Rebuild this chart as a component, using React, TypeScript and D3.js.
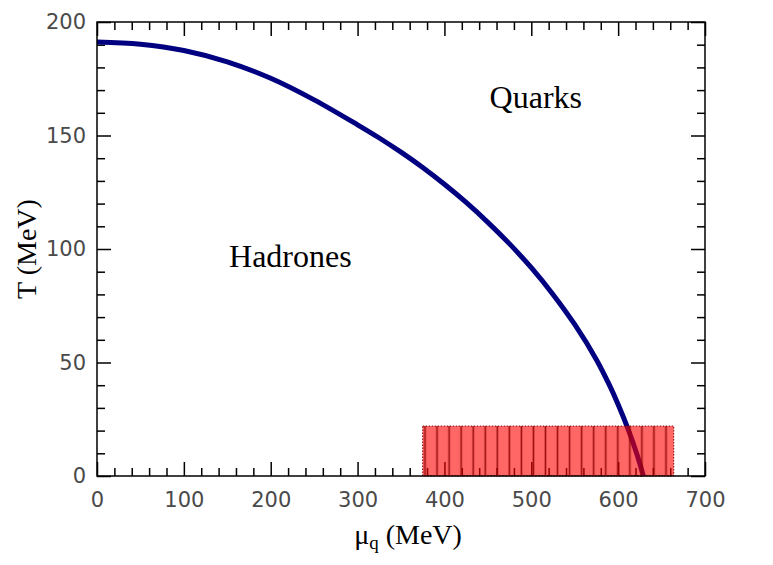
import React, { useEffect, useRef } from 'react';
import * as d3 from 'd3';

// phase boundary
const muValues = [0, 50, 100, 150, 200, 250, 300, 325, 350, 375, 400, 425, 450, 475, 500, 525, 550, 575, 590, 600, 612, 622, 629];
const tValues = [191.2, 190.2, 187.45, 182.45, 175.2, 165.7, 154.7, 148.9, 142.65, 135.9, 128.5, 120.5, 111.75, 102.25, 91.75, 80, 66.75, 51.25, 40, 31.5, 20.1, 9.1, 0];

// hatched band
const bandMu = [375, 664];
const bandT = [0, 22];

const xMajor = [0, 100, 200, 300, 400, 500, 600, 700];
const yMajor = [0, 50, 100, 150, 200];

const regionLabels = [
  { text: 'Hadrones', mu: 152, t: 92 },
  { text: 'Quarks', mu: 452, t: 162 },
];

const App = () => {
  const ref = useRef<SVGSVGElement | null>(null);

  useEffect(() => {
    document.body.style.margin = '0';
    const svg = d3.select(ref.current);
    svg.selectAll('*').remove();

    const margin = { top: 22, right: 68, bottom: 89, left: 97 };
    const width = 773;
    const height = 565;
    const w = width - margin.left - margin.right;
    const h = height - margin.top - margin.bottom;

    const x = d3.scaleLinear().domain([0, 700]).range([0, w]);
    const y = d3.scaleLinear().domain([0, 200]).range([h, 0]);

    // vertical hatch for the band
    const pat = svg.append('defs').append('pattern')
      .attr('id', 'vhatch')
      .attr('patternUnits', 'userSpaceOnUse')
      .attr('x', 419)
      .attr('y', 0)
      .attr('width', 12.05)
      .attr('height', 10);
    pat.append('line')
      .attr('x1', 6).attr('x2', 6)
      .attr('y1', 0).attr('y2', 10)
      .attr('stroke', '#8b0000')
      .attr('stroke-width', 1.6);

    const g = svg.append('g').attr('transform', `translate(${margin.left},${margin.top})`);

    const tickStyle = (sel: any) => {
      sel.selectAll('text')
        .style('font-family', '"DejaVu Sans", sans-serif')
        .style('font-size', '21px')
        .attr('fill', '#4a4a4a');
      sel.selectAll('line').attr('stroke', '#000').attr('stroke-width', 1.5);
      sel.select('.domain').remove();
    };

    const xMinor = d3.range(0, 701, 20).filter(v => v % 100 !== 0);
    const yMinor = d3.range(0, 201, 10).filter(v => v % 50 !== 0);
    const none = () => '';

    // bottom
    g.append('g').attr('transform', `translate(0,${h})`)
      .call(d3.axisBottom(x).tickValues(xMajor).tickSize(-14).tickPadding(16).tickFormat(d3.format('d')))
      .call(tickStyle);
    g.append('g').attr('transform', `translate(0,${h})`)
      .call(d3.axisBottom(x).tickValues(xMinor).tickSize(-8).tickFormat(none))
      .call(tickStyle);
    // top
    g.append('g')
      .call(d3.axisTop(x).tickValues(xMajor).tickSize(-14).tickFormat(none))
      .call(tickStyle);
    g.append('g')
      .call(d3.axisTop(x).tickValues(xMinor).tickSize(-8).tickFormat(none))
      .call(tickStyle);
    // left
    g.append('g')
      .call(d3.axisLeft(y).tickValues(yMajor).tickSize(-14).tickPadding(11).tickFormat(d3.format('d')))
      .call(tickStyle);
    g.append('g')
      .call(d3.axisLeft(y).tickValues(yMinor).tickSize(-8).tickFormat(none))
      .call(tickStyle);
    // right
    g.append('g').attr('transform', `translate(${w},0)`)
      .call(d3.axisRight(y).tickValues(yMajor).tickSize(-14).tickFormat(none))
      .call(tickStyle);
    g.append('g').attr('transform', `translate(${w},0)`)
      .call(d3.axisRight(y).tickValues(yMinor).tickSize(-8).tickFormat(none))
      .call(tickStyle);

    // boundary curve
    const pts = muValues.map((m, i) => [m, tValues[i]] as [number, number]);
    const line = d3.line<[number, number]>()
      .x(d => x(d[0]))
      .y(d => y(d[1]))
      .curve(d3.curveCatmullRom.alpha(0.5));
    g.append('path')
      .datum(pts)
      .attr('d', line)
      .attr('fill', 'none')
      .attr('stroke', '#000080')
      .attr('stroke-width', 5);

    // hatched band
    const bx = x(bandMu[0]);
    const bw = x(bandMu[1]) - x(bandMu[0]);
    const by = y(bandT[1]);
    const bh = y(bandT[0]) - y(bandT[1]);
    g.append('rect')
      .attr('x', bx).attr('y', by).attr('width', bw).attr('height', bh)
      .attr('fill', '#ff0000').attr('fill-opacity', 0.6);
    svg.append('rect')
      .attr('x', bx + margin.left).attr('y', by + margin.top).attr('width', bw).attr('height', bh)
      .attr('fill', 'url(#vhatch)').attr('opacity', 0.85);
    g.append('rect')
      .attr('x', bx).attr('y', by).attr('width', bw).attr('height', bh)
      .attr('fill', 'none')
      .attr('stroke', '#8b0000')
      .attr('stroke-width', 1)
      .attr('stroke-dasharray', '1.5,1.5');

    // frame
    g.append('rect')
      .attr('width', w).attr('height', h)
      .attr('fill', 'none')
      .attr('stroke', '#000')
      .attr('stroke-width', 1.5);

    // region labels
    g.selectAll('.region')
      .data(regionLabels)
      .enter()
      .append('text')
      .attr('x', d => x(d.mu))
      .attr('y', d => y(d.t))
      .style('font-family', '"Liberation Serif", "Times New Roman", serif')
      .style('font-size', '32px')
      .attr('fill', '#000')
      .text(d => d.text);

    // axis labels
    const xl = svg.append('text')
      .attr('x', margin.left + w / 2 + 7)
      .attr('y', 544)
      .attr('text-anchor', 'middle')
      .style('font-family', '"Liberation Serif", "Times New Roman", serif')
      .style('font-size', '28px')
      .attr('fill', '#000');
    xl.append('tspan').text('μ');
    xl.append('tspan').attr('dy', 5).style('font-size', '19px').text('q');
    xl.append('tspan').attr('dy', -5).text(' (MeV)');

    svg.append('text')
      .attr('transform', `translate(36,${margin.top + h / 2}) rotate(-90)`)
      .attr('text-anchor', 'middle')
      .style('font-family', '"Liberation Serif", "Times New Roman", serif')
      .style('font-size', '28px')
      .attr('fill', '#000')
      .text('T (MeV)');
  }, []);

  return <svg ref={ref} width={773} height={565} style={{ display: 'block', background: '#fff' }} />;
};

export default App;
